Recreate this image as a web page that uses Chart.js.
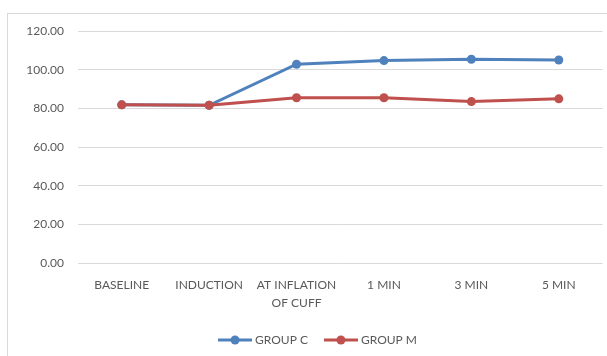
<!DOCTYPE html>
<html>
<head>
<meta charset="utf-8">
<script src="https://cdn.jsdelivr.net/npm/chart.js@4/dist/chart.umd.min.js"></script>
<style>
  html, body { margin: 0; padding: 0; background: #ffffff; }
  #wrap { position: relative; width: 607px; height: 356px; overflow: hidden; background: #fff; }
  #frame { position: absolute; left: 7px; top: 13px; width: 640px; height: 400px; border: 1px solid #d9d9d9; box-sizing: border-box; }
  #c { position: absolute; left: 0; top: 0; }
</style>
</head>
<body>
<div id="wrap">
  <div id="frame"></div>
  <canvas id="c" width="607" height="356"></canvas>
</div>
<script>
const categories = ['BASELINE', 'INDUCTION', ['AT INFLATION', 'OF CUFF'], '1 MIN', '3 MIN', '5 MIN'];
const groupC = [81.8, 81.6, 102.8, 104.7, 105.4, 105.0];
const groupM = [81.8, 81.6, 85.5, 85.5, 83.5, 84.9];
const yTicks = [0, 20, 40, 60, 80, 100, 120];

const BLUE = '#4F81BD';
const RED = '#C0504D';
const TEXT = '#595959';
const FONT = 'Lato';

function legendIcon(color) {
  const cv = document.createElement('canvas');
  cv.width = 34; cv.height = 10;
  const g = cv.getContext('2d');
  g.strokeStyle = color; g.lineWidth = 3;
  g.beginPath(); g.moveTo(0, 5); g.lineTo(34, 5); g.stroke();
  g.fillStyle = color;
  g.beginPath(); g.arc(17, 5, 4.5, 0, Math.PI * 2); g.fill();
  return cv;
}

// shift the legend box so it is centred like the original (frame extends past right edge)
const legendShift = {
  id: 'legendShift',
  afterLayout(chart) {
    if (chart.legend) { chart.legend.left += 7; chart.legend.right += 7; }
  }
};

new Chart(document.getElementById('c'), {
  type: 'line',
  data: {
    labels: categories,
    datasets: [
      { label: 'GROUP M', data: groupM, borderColor: RED, backgroundColor: RED,
        pointBackgroundColor: RED, pointBorderColor: RED, borderWidth: 3,
        pointRadius: 4.5, pointBorderWidth: 0, tension: 0 },
      { label: 'GROUP C', data: groupC, borderColor: BLUE, backgroundColor: BLUE,
        pointBackgroundColor: BLUE, pointBorderColor: BLUE, borderWidth: 3,
        pointRadius: 4.5, pointBorderWidth: 0, tension: 0 }
    ]
  },
  options: {
    responsive: false,
    animation: false,
    layout: { padding: { left: 20, right: 3, top: 31, bottom: 0 } },
    scales: {
      x: {
        offset: true,
        grid: { display: false, drawTicks: false, offset: true },
        border: { display: false },
        ticks: { color: TEXT, font: { family: FONT, size: 12, lineHeight: 1.5 }, maxRotation: 0, autoSkip: false, padding: 13 },
        afterFit: s => { s.height = 52; }
      },
      y: {
        min: 0, max: 120,
        afterBuildTicks: s => { s.ticks = yTicks.map(v => ({ value: v })); },
        grid: { color: '#d9d9d9', lineWidth: 1, drawTicks: false },
        border: { display: false },
        ticks: { color: TEXT, font: { family: FONT, size: 12 }, padding: 14,
                 callback: v => Number(v).toFixed(2) },
        afterFit: s => { s.width = 58; }
      }
    },
    plugins: {
      legend: {
        position: 'bottom',
        reverse: true,
        labels: {
          color: TEXT, font: { family: FONT, size: 12 },
          usePointStyle: true, pointStyleWidth: 28, padding: 19,
          generateLabels: chart => chart.data.datasets.map((ds, i) => ({
            text: ds.label, fillStyle: ds.borderColor, strokeStyle: ds.borderColor,
            pointStyle: legendIcon(ds.borderColor), lineWidth: 0, datasetIndex: i, fontColor: TEXT
          }))
        }
      },
      tooltip: { enabled: false }
    }
  },
  plugins: [legendShift]
});
</script>
</body>
</html>
